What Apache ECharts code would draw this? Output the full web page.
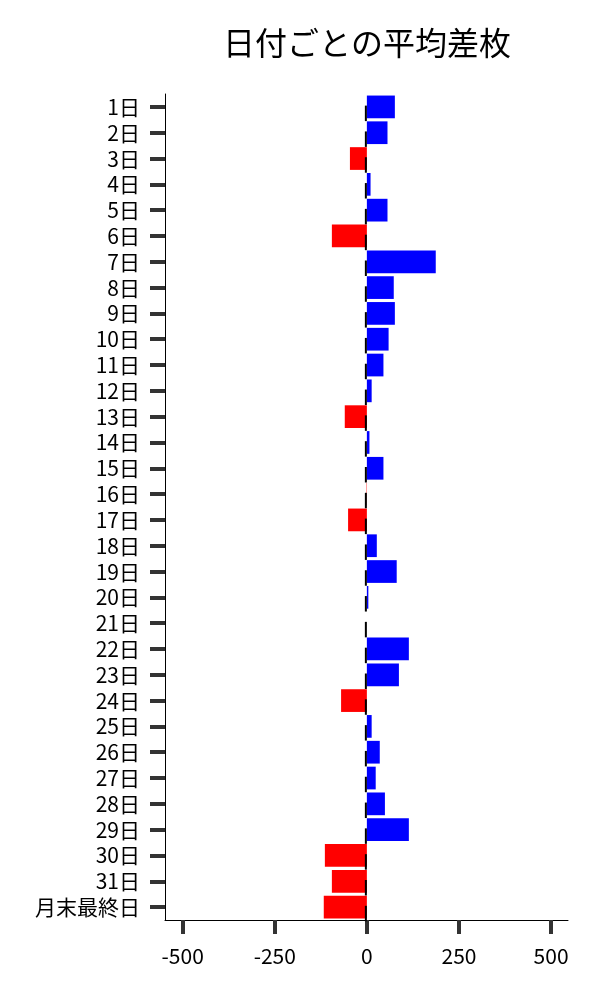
<!DOCTYPE html>
<html>
<head>
<meta charset="utf-8">
<script src="https://cdn.jsdelivr.net/npm/echarts@6/dist/echarts.min.js"></script>
<style>
html,body{margin:0;padding:0;background:#fff;}
#chart{width:600px;height:1000px;}
</style>
</head>
<body>
<div id="chart"></div>
<script>
const categories = ['1日','2日','3日','4日','5日','6日','7日','8日','9日','10日','11日','12日','13日','14日','15日','16日','17日','18日','19日','20日','21日','22日','23日','24日','25日','26日','27日','28日','29日','30日','31日','月末最終日'];
const values = [76,56,-46,10,56,-95,187,73,76,59,45,13,-60,7,45,-1,-51,27,81,4,0,114,87,-70,13,35,24,49,114,-114,-95,-117];
const xTicks = [-500,-250,0,250,500];

const FONT = '"Noto Sans CJK JP", "Noto Sans", sans-serif';
const chart = echarts.init(document.getElementById('chart'), null, {renderer:'canvas'});
chart.setOption({
  animation:false,
  backgroundColor:'#fff',
  title:{
    text:'日付ごとの平均差枚',
    left:362, top:22, textAlign:'center',
    textStyle:{fontFamily:FONT, fontSize:32, fontWeight:'normal', color:'#000'}
  },
  grid:{left:165, right:32, top:94, bottom:80},
  xAxis:{
    type:'value', min:-548, max:546,
    axisLine:{show:true, onZero:false, lineStyle:{color:'#000', width:1}},
    axisTick:{show:true, customValues:xTicks, length:14, lineStyle:{color:'#333', width:4}},
    axisLabel:{customValues:xTicks, margin:26, fontFamily:FONT, fontSize:21, color:'#000'},
    splitLine:{show:false}
  },
  yAxis:{
    type:'category', data:categories, inverse:true,
    axisLine:{show:true, onZero:false, lineStyle:{color:'#000', width:1}},
    axisTick:{show:true, alignWithLabel:true, length:15, lineStyle:{color:'#333', width:4}},
    axisLabel:{margin:25, fontFamily:FONT, fontSize:21, color:'#000', interval:0}
  },
  series:[
    {
      type:'bar',
      data:values,
      barCategoryGap:'12%',
      itemStyle:{color:function(p){return p.value < 0 ? '#ff0000' : '#0000ff';}}
    },
    {
      type:'custom',
      data:categories.map(function(c,i){return [0,i];}),
      encode:{x:0,y:1},
      z:5,
      renderItem:function(params, api){
        const pt = api.coord([api.value(0), api.value(1)]);
        const band = api.size([0,1])[1];
        return {
          type:'line',
          shape:{x1:pt[0]-1, y1:pt[1]-0.05*band, x2:pt[0]-1, y2:pt[1]+0.55*band},
          style:{stroke:'#000', lineWidth:2}
        };
      }
    }
  ]
});
</script>
</body>
</html>
